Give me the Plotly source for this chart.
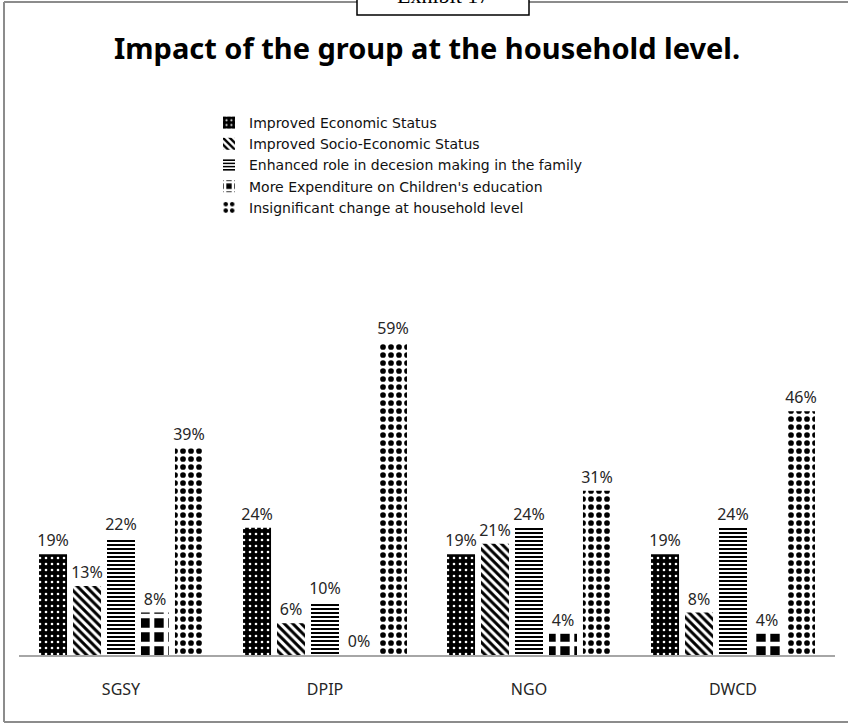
import plotly.graph_objects as go

categories = ["SGSY", "DPIP", "NGO", "DWCD"]
series_names = [
    "Improved Economic Status",
    "Improved Socio-Economic Status",
    "Enhanced role in decesion making in the family",
    "More Expenditure on Children's education",
    "Insignificant change at household level",
]
economic = [0.19, 0.24, 0.19, 0.19]
socio = [0.13, 0.06, 0.21, 0.08]
decision = [0.22, 0.10, 0.24, 0.24]
education = [0.08, 0.00, 0.04, 0.04]
insignificant = [0.39, 0.59, 0.31, 0.46]
series_values = [economic, socio, decision, education, insignificant]

patterns = [
    dict(shape=".", fgcolor="white", bgcolor="black", size=6, solidity=0.15, fillmode="replace"),
    dict(shape="\\", fgcolor="black", bgcolor="white", size=6, solidity=0.5, fillmode="replace"),
    dict(shape="-", fgcolor="black", bgcolor="white", size=4, solidity=0.5, fillmode="replace"),
    dict(shape="+", fgcolor="white", bgcolor="black", size=14, solidity=0.55, fillmode="replace"),
    dict(shape=".", fgcolor="black", bgcolor="white", size=8, solidity=0.4, fillmode="replace"),
]

W, H = 848, 723
L, R, T, B = 19, 835, 231, 655
FONT = "Noto Sans"

fig = go.Figure()
for name, vals, pat in zip(series_names, series_values, patterns):
    fig.add_trace(go.Bar(
        x=categories, y=vals, name=name,
        marker=dict(color="white", pattern=pat, line=dict(width=0)),
        texttemplate="%{y:.0%}", textposition="outside", constraintext="none",
        textfont=dict(family=FONT, size=16, color="#262626"),
        cliponaxis=False,
    ))

def px(x):
    return (x - L) / (R - L)

def py(y):
    return (B - y) / (B - T)

fig.update_layout(
    width=W, height=H,
    margin=dict(l=L, r=W - R, t=T, b=H - B, pad=0),
    paper_bgcolor="white", plot_bgcolor="white",
    barmode="group", bargap=0.167, bargroupgap=0.176,
    font=dict(family=FONT, size=16, color="#262626"),
    showlegend=True,
    legend=dict(
        x=px(209), y=py(107), xanchor="left", yanchor="top",
        font=dict(family="DejaVu Sans", size=14, color="#111111"),
        itemwidth=30, tracegroupgap=0, bgcolor="rgba(0,0,0,0)",
    ),
    xaxis=dict(showline=True, linecolor="#a6a6a6", linewidth=2, ticks="",
               tickfont=dict(family=FONT, size=16, color="#262626"),
               ticklabelstandoff=19, showgrid=False),
    yaxis=dict(range=[0, 0.8], visible=False, showgrid=False),
    shapes=[
        dict(type="line", xref="paper", yref="paper", x0=px(4), x1=px(4), y0=py(2), y1=py(722),
             line=dict(color="#8c8c8c", width=2)),
        dict(type="line", xref="paper", yref="paper", x0=px(4), x1=px(848), y0=py(2), y1=py(2),
             line=dict(color="#8c8c8c", width=2)),
        dict(type="line", xref="paper", yref="paper", x0=px(4), x1=px(848), y0=py(722), y1=py(722),
             line=dict(color="#8c8c8c", width=2)),
        dict(type="rect", xref="paper", yref="paper", x0=px(357), x1=px(529), y0=py(-10), y1=py(15),
             line=dict(color="black", width=1.5), fillcolor="white"),
    ],
    annotations=[
        dict(text="Exhibit 17", xref="paper", yref="paper", x=px(443), y=py(10),
             xanchor="center", yanchor="bottom", showarrow=False,
             font=dict(family="Liberation Serif", size=22, color="black")),
        dict(text="<b>Impact of the group at the household level.</b>", xref="paper", yref="paper",
             x=px(427), y=py(47), xanchor="center", yanchor="middle", showarrow=False,
             font=dict(family=FONT, size=29, color="black")),
    ],
)

fig.write_html("out.html", config={"displayModeBar": False},
               post_script="document.body.style.margin='0';")
